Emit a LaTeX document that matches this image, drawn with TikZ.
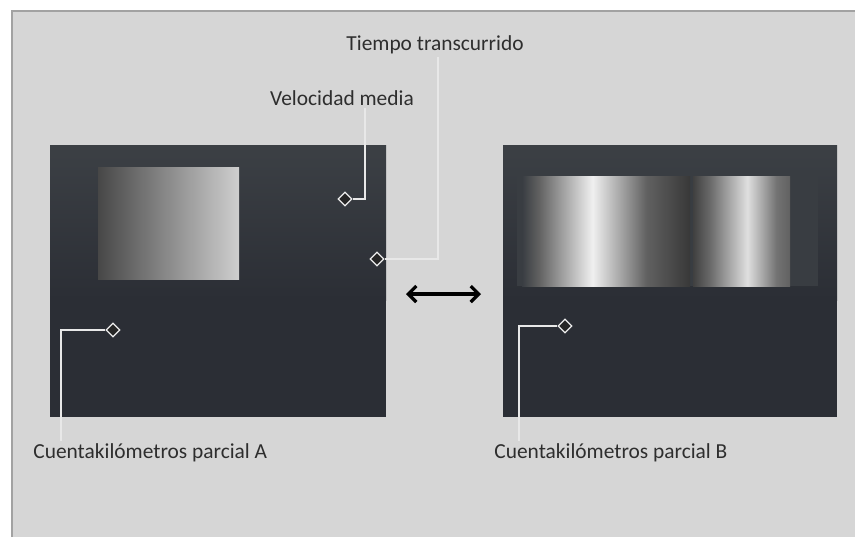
\documentclass[tikz,border=0pt]{standalone}
\usepackage{fontspec}
\setmainfont{Carlito}
\usetikzlibrary{arrows.meta,shapes.geometric}
\definecolor{panelgray}{HTML}{D6D6D6}
\definecolor{framegray}{HTML}{A2A2A2}
\definecolor{screendark}{HTML}{2B2E35}
\definecolor{screentop}{HTML}{3C4045}
\definecolor{bandgray}{HTML}{393D42}
\definecolor{labelgray}{HTML}{2E2E2E}
% the path covers 25bp..75bp of these shadings
\pgfdeclarehorizontalshading{drumone}{100bp}{%
  color(0bp)=(bandgray); color(25bp)=(bandgray); color(30bp)=(black!62!white);
  color(46bp)=(white!88!gray); color(62bp)=(black!62!white); color(75bp)=(black!78!white);
  color(100bp)=(black!78!white)}
\pgfdeclarehorizontalshading{drumtwo}{100bp}{%
  color(0bp)=(black!75!white); color(25bp)=(black!75!white); color(34bp)=(black!58!white);
  color(53bp)=(white!75!gray); color(68bp)=(black!55!white); color(75bp)=(black!62!white);
  color(100bp)=(black!62!white)}

\begin{document}
\begin{tikzpicture}[x=0.5pt,y=-0.5pt,
    tag/.style={font=\fontsize{10.7}{12}\selectfont,text=labelgray,inner sep=1pt},
    marker/.style={diamond,draw=white!85!gray,fill=black!85,line width=0.6pt,
      minimum width=7pt,minimum height=7pt,inner sep=0pt},
    leader/.style={draw=black!60,line width=0.25pt,double=white!82!gray,double distance=0.6pt},
    swap/.style={line width=1.6pt,{Straight Barb[length=4pt,width=8pt]}-{Straight Barb[length=4pt,width=8pt]}}]
  \useasboundingbox (0,0) rectangle (855,537);
  \fill[white] (0,0) rectangle (855,537);
  % panel
  \fill[panelgray] (12,11) rectangle (855,537);
  \draw[framegray,line width=1.2pt] (12,537) -- (12,11) -- (855,11);
  % left screen
  \fill[screendark] (50,145) rectangle (386,417);
  \shade[top color=screentop,bottom color=screendark] (50,145) rectangle (386,300);
  \shade[left color=black!72!white,right color=white!62!gray] (98,167) rectangle (239,279);
  % right screen
  \fill[screendark] (503,145) rectangle (837,417);
  \shade[top color=screentop,bottom color=screendark] (503,145) rectangle (837,300);
  \fill[bandgray] (517,173) rectangle (818,286);
  \shade[shading=drumone] (522,176) rectangle (690,286);
  \shade[shading=drumtwo] (693,176) rectangle (790,286);
  % labels
  \node[tag] (tlab) at (435,45) {Tiempo transcurrido};
  \node[tag] (vlab) at (342,98) {Velocidad media};
  \node[tag,anchor=west] (alab) at (31,453) {Cuentakilómetros parcial A};
  \node[tag,anchor=west] (blab) at (492,453) {Cuentakilómetros parcial B};
  % markers
  \node[marker] (vpt) at (345,199) {};
  \node[marker] (tpt) at (377,259) {};
  \node[marker] (apt) at (113,330) {};
  \node[marker] (bpt) at (565,326) {};
  \coordinate (vbend) at (365,199);
  \coordinate (tbend) at (438,259);
  \coordinate (abend) at (61,330);
  \coordinate (bbend) at (519,326);
  % leaders
  \draw[leader] (vpt) -- (vbend) -- (vbend |- vlab.south);
  \draw[leader] (tpt) -- (tbend) -- (tbend |- tlab.south);
  \draw[leader] (apt) -- (abend) -- (abend |- alab.north);
  \draw[leader] (bpt) -- (bbend) -- (bbend |- blab.north);
  % swap arrow
  \coordinate (swl) at (406,294);
  \coordinate (swr) at (481,294);
  \draw[swap] (swl) -- (swr);
\end{tikzpicture}
\end{document}
